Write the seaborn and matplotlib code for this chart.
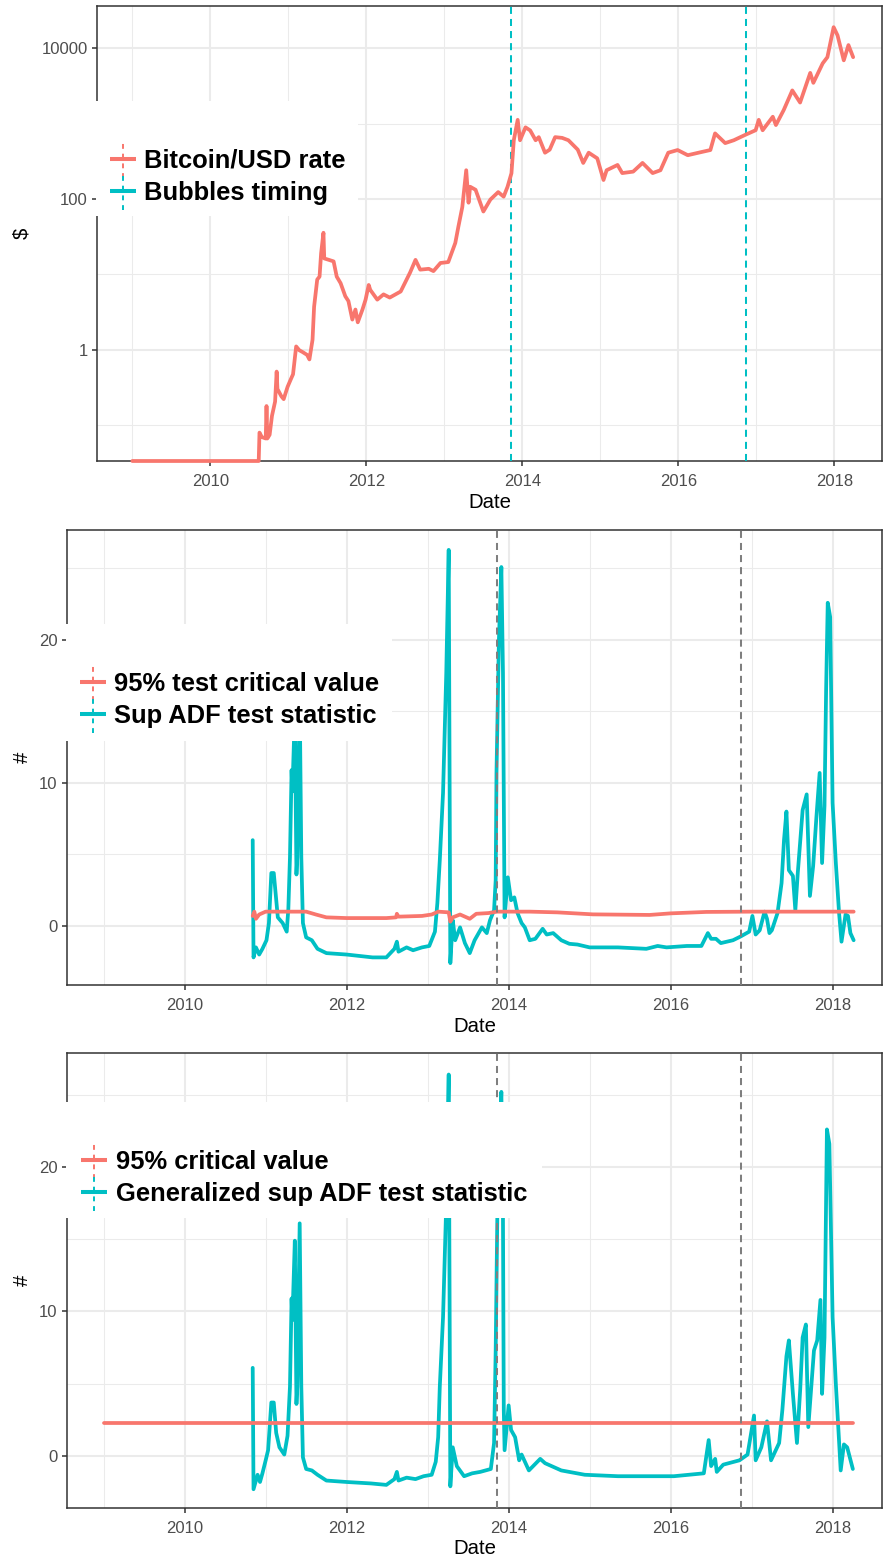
import numpy as np
import matplotlib
matplotlib.use("Agg")
import matplotlib.pyplot as plt
import seaborn as sns
from matplotlib.lines import Line2D
from matplotlib.patches import Rectangle
from matplotlib.legend_handler import HandlerBase
from matplotlib.ticker import FixedLocator, NullFormatter, FixedFormatter

sns.set_style("white")
plt.rcParams['font.family'] = ['Liberation Sans', 'DejaVu Sans']
plt.rcParams['text.color'] = 'black'

# ---------------- data ----------------
price_year = [2009.00, 2010.62, 2010.63, 2010.66, 2010.71, 2010.72, 2010.73, 2010.76, 2010.79,
              2010.83, 2010.85, 2010.86, 2010.91, 2010.94, 2010.99, 2011.03, 2011.06, 2011.10,
              2011.14, 2011.18, 2011.24, 2011.27, 2011.31, 2011.33, 2011.37, 2011.40, 2011.42,
              2011.45, 2011.46, 2011.52, 2011.58, 2011.62, 2011.67, 2011.73, 2011.77, 2011.82,
              2011.86, 2011.89, 2011.95, 2011.99, 2012.03, 2012.05, 2012.14, 2012.22, 2012.30,
              2012.44, 2012.56, 2012.63, 2012.69, 2012.80, 2012.86, 2012.95, 2013.05, 2013.14,
              2013.18, 2013.23, 2013.28, 2013.31, 2013.33, 2013.40, 2013.50, 2013.59, 2013.69,
              2013.76, 2013.81, 2013.86, 2013.89, 2013.94, 2013.97, 2014.04, 2014.10, 2014.17,
              2014.21, 2014.29, 2014.35, 2014.42, 2014.51, 2014.59, 2014.71, 2014.78, 2014.85,
              2014.96, 2015.04, 2015.08, 2015.22, 2015.28, 2015.42, 2015.54, 2015.67, 2015.77,
              2015.87, 2015.99, 2016.12, 2016.28, 2016.41, 2016.47, 2016.60, 2016.71, 2016.86,
              2016.99, 2017.03, 2017.08, 2017.21, 2017.25, 2017.35, 2017.46, 2017.56, 2017.69,
              2017.73, 2017.85, 2017.91, 2017.99, 2018.04, 2018.12, 2018.18, 2018.24]
price_usd = [0, 0, 0.079, 0.069, 0.066, 0.178, 0.066, 0.074, 0.132,
             0.204, 0.51, 0.30, 0.24, 0.22, 0.32, 0.40, 0.47, 1.10,
             0.98, 0.93, 0.85, 0.74, 1.35, 3.7, 8.5, 9.3, 19.0,
             35.5, 16.2, 15.5, 14.8, 9.3, 7.6, 5.1, 4.4, 2.5,
             3.4, 2.3, 3.4, 4.6, 7.2, 6.2, 4.6, 5.4, 4.9,
             5.9, 10.5, 15.5, 11.5, 11.8, 11.0, 14.1, 14.5, 26,
             43, 78, 240, 89, 145, 132, 68, 98, 123,
             107, 145, 219, 600, 1120, 600, 890, 810, 600,
             660, 410, 450, 660, 645, 600, 450, 300, 410,
             345, 178, 240, 282, 220, 230, 300, 220, 240,
             410, 445, 380, 415, 445, 740, 550, 600, 710,
             815, 1120, 815, 1230, 955, 1510, 2750, 1900, 4700,
             3470, 6300, 7600, 19000, 14800, 6900, 11000, 7600]

sadf_year = [2010.84, 2010.85, 2010.88, 2010.92, 2010.96, 2011.01, 2011.04, 2011.07, 2011.10,
             2011.15, 2011.21, 2011.26, 2011.28, 2011.30, 2011.32, 2011.33, 2011.36, 2011.38,
             2011.39, 2011.42, 2011.44, 2011.46, 2011.50, 2011.57, 2011.64, 2011.75, 2012.00,
             2012.32, 2012.49, 2012.59, 2012.62, 2012.64, 2012.74, 2012.82, 2012.93, 2013.02,
             2013.09, 2013.12, 2013.15, 2013.19, 2013.23, 2013.26, 2013.28, 2013.31, 2013.34,
             2013.40, 2013.46, 2013.52, 2013.58, 2013.67, 2013.73, 2013.77, 2013.82, 2013.84,
             2013.85, 2013.88, 2013.91, 2013.93, 2013.95, 2013.99, 2014.03, 2014.07, 2014.11,
             2014.16, 2014.20, 2014.26, 2014.33, 2014.42, 2014.47, 2014.55, 2014.65, 2014.75,
             2014.85, 2015.00, 2015.35, 2015.70, 2015.84, 2015.95, 2016.20, 2016.38, 2016.46,
             2016.50, 2016.56, 2016.62, 2016.77, 2016.86, 2016.97, 2017.01, 2017.05, 2017.10,
             2017.16, 2017.19, 2017.22, 2017.25, 2017.32, 2017.37, 2017.40, 2017.43, 2017.46,
             2017.51, 2017.54, 2017.57, 2017.63, 2017.68, 2017.72, 2017.76, 2017.80, 2017.84,
             2017.87, 2017.90, 2017.92, 2017.94, 2017.97, 2018.00, 2018.04, 2018.08, 2018.11,
             2018.16, 2018.19, 2018.22, 2018.26]
sadf_stat = [6.0, -2.2, -1.5, -2.0, -1.6, -1.0, 0.2, 3.7, 3.7,
             0.6, 0.2, -0.4, 1.2, 4.8, 10.9, 9.4, 14.9, 3.6,
             4.8, 16.1, 4.8, 0.2, -0.8, -1.0, -1.6, -1.9, -2.0,
             -2.2, -2.2, -1.6, -1.1, -1.8, -1.5, -1.7, -1.5, -1.4,
             -0.4, 1.6, 4.6, 9.3, 17.7, 26.3, -2.6, 0.4, -1.0,
             -0.1, -1.2, -1.9, -1.0, -0.1, -0.5, 0.4, 1.1, 3.2,
             10.7, 20.0, 25.1, 17.7, 0.6, 3.4, 1.8, 2.0, 0.9,
             0.2, -0.1, -1.0, -0.9, -0.2, -0.6, -0.5, -1.0, -1.25,
             -1.3, -1.5, -1.5, -1.6, -1.4, -1.5, -1.4, -1.4, -0.5,
             -0.9, -0.9, -1.2, -1.0, -0.75, -0.4, 0.7, -0.6, -0.3,
             1.0, 0.5, -0.5, -0.3, 0.9, 3.0, 6.0, 8.0, 3.9,
             3.5, 1.1, 3.7, 8.1, 9.2, 2.1, 4.2, 7.6, 10.7,
             4.4, 8.4, 16.5, 22.6, 21.6, 8.6, 4.4, 0.9, -1.1,
             0.8, 0.7, -0.5, -1.0]

sadf_cv_year = [2010.84, 2010.86, 2010.88, 2010.92, 2011.00, 2011.50, 2011.62, 2011.75, 2012.00,
                2012.49, 2012.61, 2012.62, 2012.64, 2012.93, 2013.05, 2013.13, 2013.26, 2013.28,
                2013.31, 2013.40, 2013.52, 2013.60, 2013.75, 2013.86, 2014.26, 2014.60, 2015.04,
                2015.74, 2016.00, 2016.44, 2017.00, 2018.26]
sadf_cv = [0.7, 1.0, 0.5, 0.8, 1.0, 1.0, 0.8, 0.6, 0.55,
           0.55, 0.6, 0.85, 0.65, 0.7, 0.8, 1.0, 0.95, 0.3,
           0.6, 0.8, 0.5, 0.85, 0.9, 1.0, 1.0, 0.95, 0.81,
           0.77, 0.88, 0.98, 1.0, 1.0]

gsadf_year = [2010.84, 2010.85, 2010.90, 2010.93, 2010.96, 2011.00, 2011.03, 2011.07, 2011.10,
              2011.13, 2011.17, 2011.23, 2011.27, 2011.30, 2011.32, 2011.33, 2011.36, 2011.38,
              2011.39, 2011.42, 2011.44, 2011.46, 2011.50, 2011.57, 2011.64, 2011.75, 2012.00,
              2012.30, 2012.49, 2012.59, 2012.62, 2012.64, 2012.74, 2012.85, 2012.95, 2013.05,
              2013.10, 2013.13, 2013.15, 2013.19, 2013.23, 2013.26, 2013.28, 2013.31, 2013.36,
              2013.45, 2013.55, 2013.65, 2013.78, 2013.82, 2013.84, 2013.86, 2013.88, 2013.91,
              2013.93, 2013.94, 2013.95, 2014.00, 2014.03, 2014.08, 2014.13, 2014.16, 2014.25,
              2014.39, 2014.45, 2014.65, 2014.94, 2015.35, 2015.76, 2016.04, 2016.41, 2016.47,
              2016.50, 2016.55, 2016.57, 2016.65, 2016.85, 2016.95, 2017.03, 2017.05, 2017.12,
              2017.19, 2017.24, 2017.34, 2017.38, 2017.43, 2017.46, 2017.51, 2017.56, 2017.60,
              2017.63, 2017.67, 2017.70, 2017.77, 2017.81, 2017.85, 2017.87, 2017.90, 2017.93,
              2017.96, 2018.00, 2018.04, 2018.10, 2018.14, 2018.18, 2018.25]
gsadf_stat = [6.1, -2.3, -1.3, -1.8, -1.2, -0.3, 0.4, 3.7, 3.7,
              1.6, 0.6, 0.1, 1.4, 4.8, 10.9, 9.4, 14.9, 3.6,
              4.8, 16.1, 4.8, -0.1, -0.9, -1.0, -1.3, -1.7, -1.8,
              -1.9, -2.0, -1.6, -1.1, -1.7, -1.5, -1.6, -1.4, -1.3,
              -0.4, 1.3, 4.8, 9.6, 17.5, 26.4, -2.1, 0.6, -0.7,
              -1.4, -1.2, -1.1, -0.9, 0.9, 7.3, 16.5, 21.0, 25.2,
              16.5, 3.2, 0.4, 3.5, 1.8, 1.3, -0.3, 0.1, -1.0,
              -0.2, -0.5, -1.0, -1.3, -1.4, -1.4, -1.4, -1.2, 1.1,
              -0.7, -0.2, -1.1, -0.6, -0.3, 0.1, 2.8, -0.3, 0.6,
              2.4, -0.3, 0.9, 3.2, 6.9, 8.0, 4.3, 0.9, 4.6,
              8.2, 9.1, 2.0, 7.3, 8.0, 10.8, 4.3, 8.2, 22.6,
              21.6, 9.6, 5.0, -1.0, 0.8, 0.6, -0.9]

gsadf_cv_year = [2009.00, 2018.25]
gsadf_cv = [2.27, 2.27]

bubble_dates = [2013.855, 2016.865]

year_ticks = [2010, 2012, 2014, 2016, 2018]
year_minor = [2009, 2011, 2013, 2015, 2017]

legend1 = ["Bitcoin/USD rate", "Bubbles timing"]
legend2 = ["95% test critical value", "Sup ADF test statistic"]
legend3 = ["95% critical value", "Generalized sup ADF test statistic"]

# ---------------- style ----------------
RED = "#F8766D"
CYAN = "#00BFC4"
GREY = "#7F7F7F"
W, H, DPI = 884, 1559, 100
XLIM = (2008.547, 2018.61)
LW = 2.7
DASH = (3.5, 2.5)

fig = plt.figure(figsize=(W / DPI, H / DPI), dpi=DPI)
fig.patch.set_facecolor("white")


def px_axes(l, t, r, b):
    return fig.add_axes([l / W, 1 - b / H, (r - l) / W, (b - t) / H])


def style(ax, l, t, r, b, ylabel, ymaj, ymaj_lab, ymin):
    ax.set_xlim(XLIM)
    ax.xaxis.set_major_locator(FixedLocator(year_ticks))
    ax.xaxis.set_major_formatter(FixedFormatter([str(y) for y in year_ticks]))
    ax.xaxis.set_minor_locator(FixedLocator(year_minor))
    ax.yaxis.set_major_locator(FixedLocator(ymaj))
    ax.yaxis.set_major_formatter(FixedFormatter(ymaj_lab))
    ax.yaxis.set_minor_locator(FixedLocator(ymin))
    ax.yaxis.set_minor_formatter(NullFormatter())
    ax.grid(which="major", color="#EBEBEB", lw=1.45)
    ax.grid(which="minor", color="#EBEBEB", lw=0.75)
    ax.set_axisbelow(True)
    for s in ax.spines.values():
        s.set_color("#333333")
        s.set_linewidth(1.1)
        s.set_visible(True)
    ax.tick_params(which="major", bottom=True, left=True, length=3.7, width=1.1,
                   color="#333333", labelsize=12, labelcolor="#4D4D4D", pad=3)
    ax.tick_params(axis="x", which="major", pad=5.5)
    ax.tick_params(which="minor", bottom=False, left=False, length=0)
    ax.set_xlabel("Date", fontsize=14.7, color="black", va="center")
    ax.xaxis.set_label_coords(0.5, -41 / (b - t))
    ax.set_ylabel(ylabel, fontsize=14.7, color="black", va="center")
    ax.yaxis.set_label_coords((22 - l) / (r - l), 0.5)


class KeyHandler(HandlerBase):
    def create_artists(self, legend, orig_handle, xdescent, ydescent, width, height,
                       fontsize, trans):
        c = orig_handle.get_color()
        x0, y0 = -xdescent, -ydescent
        cx, cy = x0 + width / 2, y0 + height / 2
        hline = Line2D([x0, x0 + width], [cy, cy], color=c, lw=2.9,
                       solid_capstyle="butt", transform=trans)
        vline = Line2D([cx, cx], [cy - 1.05 * height, cy + 1.05 * height], color=c,
                       lw=1.4, dashes=(2.5, 2.5), transform=trans)
        return [vline, hline]


def add_legend(labels, box, key_left, top):
    x0, y0, x1, y1 = box
    fig.add_artist(Rectangle((x0 / W, 1 - y1 / H), (x1 - x0) / W, (y1 - y0) / H,
                             transform=fig.transFigure, facecolor="white",
                             edgecolor="none", zorder=3))
    handles = [Line2D([], [], color=RED), Line2D([], [], color=CYAN)]
    leg = fig.legend(handles, labels, loc="upper left",
                     bbox_to_anchor=(key_left / W, 1 - top / H),
                     bbox_transform=fig.transFigure, frameon=False,
                     borderpad=0, borderaxespad=0, handlelength=1.0,
                     handletextpad=0.35, labelspacing=0.3,
                     prop={"family": ["Liberation Sans", "DejaVu Sans"],
                           "weight": "bold", "size": 18.4},
                     handler_map={Line2D: KeyHandler()}, labelcolor="black")
    leg.set_zorder(5)


# ---------------- panel 1 ----------------
P1 = (97, 6, 882, 461)
ax1 = px_axes(*P1)
ax1.set_yscale("log")
Y1_LOW, Y1_HIGH = 10 ** -1.479, 10 ** 4.56
ax1.set_ylim(Y1_LOW, Y1_HIGH)
price_arr = np.array(price_usd, dtype=float)
price_plot = np.where(price_arr > 0, price_arr, Y1_LOW)
sns.lineplot(x=price_year, y=price_plot, ax=ax1, color=RED, linewidth=LW,
             estimator=None, sort=False, legend=False)
ax1.lines[-1].set_clip_on(False)
ax1.lines[-1].set_zorder(3)
for d in bubble_dates:
    ax1.axvline(d, color=CYAN, lw=1.45, dashes=DASH, zorder=2.6)
style(ax1, *P1, "$", [1, 100, 10000], ["1", "100", "10000"], [0.1, 10, 1000])
add_legend(legend1, (96, 101, 358, 216), 110, 149)

# ---------------- panel 2 ----------------
P2 = (67, 530, 882, 985)
ax2 = px_axes(*P2)
ax2.set_ylim(-4.13, 27.69)
sns.lineplot(x=sadf_year, y=sadf_stat, ax=ax2, color=CYAN, linewidth=LW,
             estimator=None, sort=False, legend=False)
sns.lineplot(x=sadf_cv_year, y=sadf_cv, ax=ax2, color=RED, linewidth=LW,
             estimator=None, sort=False, legend=False)
for d in bubble_dates:
    ax2.axvline(d, color=GREY, lw=1.45, dashes=DASH, zorder=2.6)
style(ax2, *P2, "#", [0, 10, 20], ["0", "10", "20"], [5, 15, 25])
add_legend(legend2, (66, 624, 392, 741), 80, 672)

# ---------------- panel 3 ----------------
P3 = (67, 1053, 882, 1508)
ax3 = px_axes(*P3)
ax3.set_ylim(-3.60, 27.89)
sns.lineplot(x=gsadf_year, y=gsadf_stat, ax=ax3, color=CYAN, linewidth=LW,
             estimator=None, sort=False, legend=False)
sns.lineplot(x=gsadf_cv_year, y=gsadf_cv, ax=ax3, color=RED, linewidth=LW,
             estimator=None, sort=False, legend=False)
for d in bubble_dates:
    ax3.axvline(d, color=GREY, lw=1.45, dashes=DASH, zorder=2.6)
style(ax3, *P3, "#", [0, 10, 20], ["0", "10", "20"], [5, 15, 25])
add_legend(legend3, (66, 1102, 542, 1218), 81, 1150)

fig.savefig("out.png", dpi=DPI, facecolor="white")
